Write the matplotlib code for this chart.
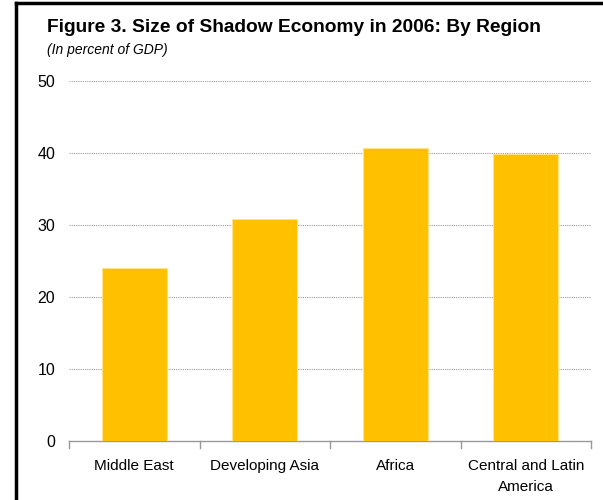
import matplotlib
matplotlib.use("Agg")
import matplotlib.pyplot as plt
from matplotlib.lines import Line2D

plt.rcParams['font.family'] = ['Liberation Sans', 'DejaVu Sans']

categories = ["Middle East", "Developing Asia", "Africa", "Central and Latin\nAmerica"]
values = [24.0, 30.8, 40.7, 39.8]
yticks = [0, 10, 20, 30, 40, 50]

fig = plt.figure(figsize=(6.03, 5.0), dpi=100)
ax = fig.add_axes([69/603, 1-441/500, (591-69)/603, (441-81)/500])

x = range(len(categories))
ax.bar(x, values, width=0.5, color='#FFC000', edgecolor='#FFE38A', linewidth=0.8, zorder=3)
ax.set_xlim(-0.5, len(categories)-0.5)
ax.set_ylim(0, 50)
ax.set_yticks(yticks)
ax.set_yticklabels([str(t) for t in yticks], fontsize=11.5)
ax.tick_params(axis='y', length=0, pad=10)
for t in yticks[1:]:
    ax.axhline(t, color='#999999', linestyle=(0, (1, 1)), linewidth=0.8, zorder=1)

ax.set_xticks(x)
ax.set_xticklabels(categories, fontsize=11, linespacing=1.6)
ax.tick_params(axis='x', length=0, pad=13)
for b in [i - 0.5 for i in range(len(categories)+1)]:
    ax.plot([b, b], [0, -1.0], color='#999999', linewidth=1, clip_on=False, zorder=2)

for s in ['top', 'right', 'left']:
    ax.spines[s].set_visible(False)
ax.spines['bottom'].set_color('#999999')
ax.spines['bottom'].set_linewidth(1)

fig.text(47/603, 1-28/500, "Figure 3. Size of Shadow Economy in 2006: By Region",
         fontsize=13.8, fontweight='bold', va='center', ha='left')
fig.text(47/603, 1-50/500, "(In percent of GDP)", fontsize=10, style='italic',
         va='center', ha='left')

# frame lines (top and left)
fig.add_artist(Line2D([16/603, 1], [1-3/500, 1-3/500], color='black', linewidth=2.5,
                      transform=fig.transFigure))
fig.add_artist(Line2D([16/603, 16/603], [0, 1-3/500], color='black', linewidth=2.5,
                      transform=fig.transFigure))

fig.savefig("out.png", dpi=100)
